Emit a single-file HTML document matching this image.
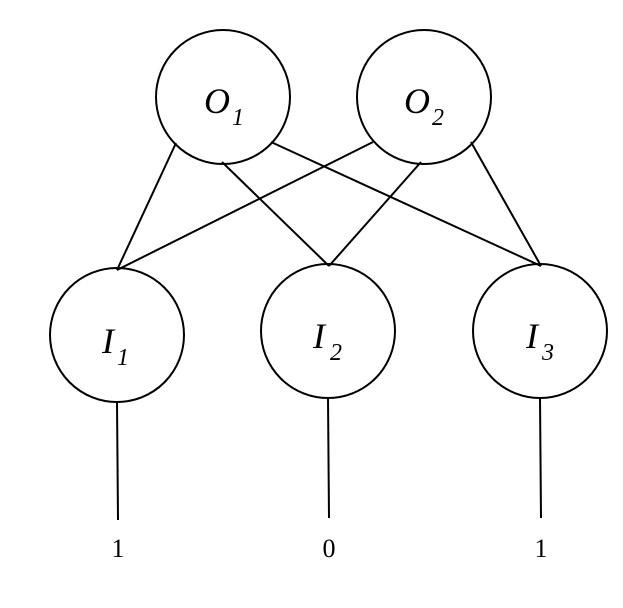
<!DOCTYPE html>
<html><head><style>body{margin:0;background:#fff}
text{font-family:"Liberation Serif","Times New Roman",serif}</style></head><body>
<svg width="623" height="603" viewBox="0 0 623 603" xmlns="http://www.w3.org/2000/svg">
<g fill="none" stroke="#000" stroke-width="2">
<circle cx="223" cy="97" r="67"/>
<circle cx="424" cy="97" r="67"/>
<circle cx="117" cy="335" r="67"/>
<circle cx="328" cy="331" r="67"/>
<circle cx="540" cy="331" r="67"/>
<line x1="176" y1="143" x2="117" y2="270"/>
<line x1="222" y1="162" x2="329" y2="266"/>
<line x1="271" y1="142" x2="541" y2="266"/>
<line x1="373" y1="142" x2="117" y2="270"/>
<line x1="421" y1="162" x2="329" y2="266"/>
<line x1="471" y1="142" x2="541" y2="266"/>
<line x1="117" y1="402" x2="118" y2="520"/>
<line x1="328" y1="398" x2="329" y2="518"/>
<line x1="540" y1="398" x2="541" y2="518"/>
</g>
<g style="font-style:italic" fill="#000">
<text x="204" y="113" font-size="36">O</text><text x="232" y="125" font-size="24">1</text>
<text x="404" y="113" font-size="36">O</text><text x="432" y="125" font-size="24">2</text>
<text x="102" y="353" font-size="36">I</text><text x="117" y="365" font-size="24">1</text>
<text x="313" y="348" font-size="36">I</text><text x="330" y="360" font-size="24">2</text>
<text x="526" y="348" font-size="36">I</text><text x="542" y="360" font-size="24">3</text>
</g>
<g font-size="26" fill="#000" text-anchor="middle">
<text x="118" y="557">1</text><text x="329" y="557">0</text><text x="541" y="557">1</text>
</g>
</svg>
</body></html>
